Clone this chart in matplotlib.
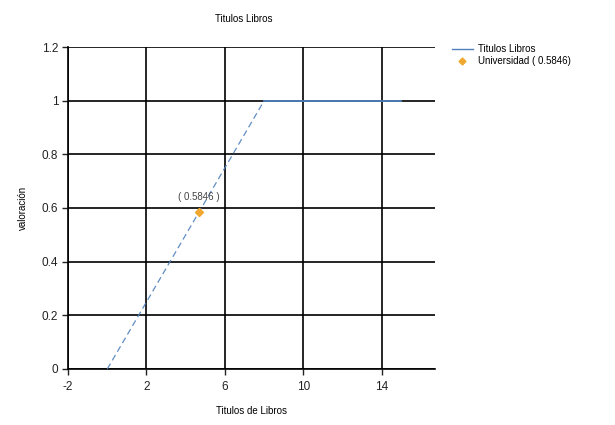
import matplotlib
matplotlib.use("Agg")
import matplotlib.pyplot as plt
from matplotlib.lines import Line2D

# ── Datos ──────────────────────────────────────────────────────────────────────
TITULO      = "Titulos Libros"
X_LABEL     = "Titulos de Libros"
Y_LABEL     = "valoración"

RAMPA_X     = [0, 8]          # tramo discontinuo
RAMPA_Y     = [0, 1]
PLANO_X     = [8, 15]         # tramo continuo
PLANO_Y     = [1, 1]

PUNTO_X     = [4.68]
PUNTO_Y     = [0.5846]
PUNTO_LABEL = "Universidad ( 0.5846)"
PUNTO_TEXTO = "( 0.5846 )"

X_TICKS     = [-2, 2, 6, 10, 14]
X_TICKLBL   = ["-2", "2", "6", "10", "14"]
Y_TICKS     = [0, 0.2, 0.4, 0.6, 0.8, 1, 1.2]
Y_TICKLBL   = ["0", "0.2", "0.4", "0.6", "0.8", "1", "1.2"]

AZUL    = "#4f81bd"
NARANJA = "#f0a830"

plt.rcParams["font.family"] = ["Liberation Sans", "DejaVu Sans"]

fig = plt.figure(figsize=(6.15, 4.25), dpi=100)
ax = fig.add_axes([0.1106, 0.1318, 0.5964, 0.7576])

ax.plot(RAMPA_X, RAMPA_Y, color=AZUL, linewidth=0.9, linestyle=(0, (5, 3)),
        alpha=0.9, zorder=3)
ax.plot(PLANO_X, PLANO_Y, color=AZUL, linewidth=1.3, zorder=3)
ax.plot(PUNTO_X, PUNTO_Y, linestyle="none", marker="D", markersize=4.5,
        color=NARANJA, zorder=4)
ax.annotate(PUNTO_TEXTO, (PUNTO_X[0], PUNTO_Y[0]), xytext=(0, 7),
            textcoords="offset points", ha="center", va="bottom",
            fontsize=7, color="#444444")

ax.set_xlim(-2, 16.7)
ax.set_ylim(0, 1.2)
ax.set_xticks(X_TICKS, X_TICKLBL)
ax.set_yticks(Y_TICKS, Y_TICKLBL)
ax.tick_params(direction="out", length=4, width=1, colors="#222222",
               labelsize=8.5)
ax.tick_params(axis="x", pad=5)
ax.tick_params(axis="y", pad=3)

ax.grid(True, color="black", linewidth=1.2)
ax.set_axisbelow(True)
for lado in ("top", "right"):
    ax.spines[lado].set_visible(False)
for lado in ("left", "bottom"):
    ax.spines[lado].set_linewidth(1.2)
    ax.spines[lado].set_color("black")

ax.set_title(TITULO, fontsize=7, pad=18, x=0.48)
ax.set_xlabel(X_LABEL, fontsize=7, labelpad=9)
ax.set_ylabel(Y_LABEL, fontsize=7, labelpad=10)

handles = [
    Line2D([], [], color=AZUL, linewidth=1.0),
    Line2D([], [], color=NARANJA, linestyle="none", marker="D", markersize=3.5),
]
ax.legend(handles, [TITULO, PUNTO_LABEL], loc="upper left",
          bbox_to_anchor=(1.035, 1.02), frameon=False, fontsize=7,
          handlelength=2.2, handletextpad=0.5, labelspacing=0.15,
          borderaxespad=0)

fig.savefig("out.png", dpi=100)
